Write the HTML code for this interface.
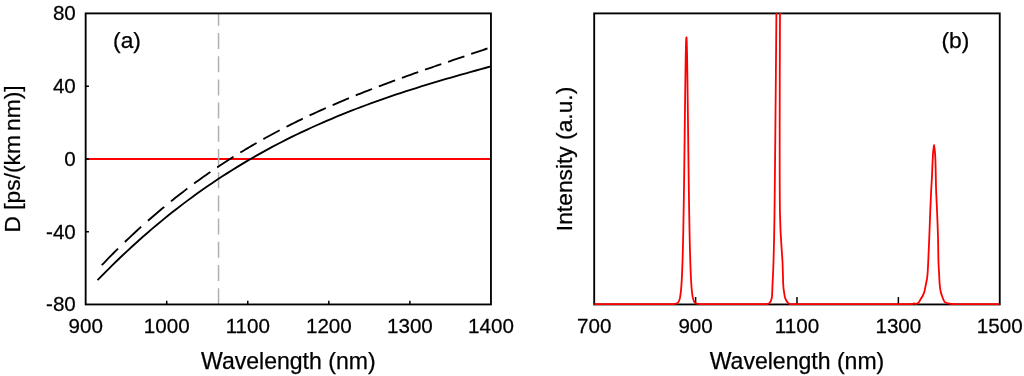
<!DOCTYPE html>
<html><head><meta charset="utf-8"><title>Dispersion and spectrum</title>
<style>
html,body{margin:0;padding:0;background:#fff;}
svg{display:block;}
text{font-family:"Liberation Sans",Arial,sans-serif;fill:#000;stroke:#000;stroke-width:0.25px;}
.t{font-size:20.6px;}
.l{font-size:22.8px;}
.x{font-size:23.05px;}
</style></head><body>
<svg width="1024" height="376" viewBox="0 0 1024 376">
<rect width="1024" height="376" fill="#fff"/>
<defs>
<clipPath id="ca"><rect x="85.65" y="13.4" width="405.29999999999995" height="292.05"/></clipPath>
<clipPath id="cb"><rect x="594.2" y="12.9" width="405.54999999999995" height="293.05"/></clipPath>
</defs>

<g fill="none">
<line x1="85.65" y1="159" x2="490.95" y2="159" stroke="#ff0000" stroke-width="2.1"/>
<line x1="218.55" y1="304.2" x2="218.55" y2="13.4" stroke="#b0b0b0" stroke-width="1.5" stroke-dasharray="16 7.2" clip-path="url(#ca)"/>
<path d="M97.50,280.19 L102.48,275.08 L107.46,270.05 L112.44,265.12 L117.42,260.27 L122.40,255.50 L127.38,250.82 L132.36,246.22 L137.34,241.71 L142.32,237.28 L147.30,232.93 L152.28,228.65 L157.26,224.46 L162.24,220.34 L167.22,216.30 L172.20,212.33 L177.18,208.44 L182.16,204.62 L187.13,200.88 L192.11,197.20 L197.09,193.60 L202.07,190.06 L207.05,186.59 L212.03,183.19 L217.01,179.85 L221.99,176.58 L226.97,173.37 L231.95,170.22 L236.93,167.14 L241.91,164.11 L246.89,161.15 L251.87,158.24 L256.85,155.39 L261.83,152.59 L266.81,149.86 L271.79,147.17 L276.77,144.54 L281.75,141.96 L286.73,139.43 L291.71,136.95 L296.69,134.52 L301.67,132.13 L306.65,129.80 L311.63,127.51 L316.61,125.26 L321.59,123.06 L326.57,120.89 L331.55,118.78 L336.53,116.70 L341.51,114.65 L346.49,112.65 L351.47,110.69 L356.45,108.76 L361.43,106.86 L366.41,105.00 L371.39,103.17 L376.37,101.38 L381.35,99.61 L386.33,97.88 L391.30,96.17 L396.28,94.49 L401.26,92.84 L406.24,91.21 L411.22,89.61 L416.20,88.03 L421.18,86.47 L426.16,84.93 L431.14,83.41 L436.12,81.92 L441.10,80.44 L446.08,78.97 L451.06,77.53 L456.04,76.09 L461.02,74.67 L466.00,73.27 L470.98,71.87 L475.96,70.49 L480.94,69.12 L485.92,67.75 L490.90,66.39" stroke="#000" stroke-width="1.85" clip-path="url(#ca)"/>
<path d="M101.75,265.20 L104.08,262.77 L106.41,260.36 L108.74,257.97 L111.06,255.60 L113.39,253.25 L115.72,250.92 L118.05,248.61 M124.84,242.00 L127.17,239.77 L129.50,237.56 L131.83,235.37 L134.15,233.20 L136.48,231.05 L138.81,228.91 L141.14,226.80 M147.93,220.74 L150.26,218.70 L152.59,216.68 L154.92,214.68 L157.24,212.69 L159.57,210.72 L161.90,208.77 L164.23,206.84 M171.02,201.31 L173.35,199.44 L175.68,197.59 L178.01,195.76 L180.33,193.95 L182.66,192.15 L184.99,190.37 L187.32,188.61 M194.11,183.55 L196.44,181.85 L198.77,180.17 L201.10,178.50 L203.42,176.84 L205.75,175.20 L208.08,173.58 L210.41,171.97 M217.20,167.36 L219.53,165.80 L221.86,164.27 L224.19,162.74 L226.51,161.23 L228.84,159.74 L231.17,158.26 L233.50,156.79 M240.29,152.58 L242.62,151.17 L244.95,149.76 L247.28,148.37 L249.60,146.99 L251.93,145.63 L254.26,144.28 L256.59,142.94 M263.38,139.10 L265.71,137.80 L268.04,136.52 L270.37,135.25 L272.69,133.99 L275.02,132.74 L277.35,131.51 L279.68,130.28 M286.47,126.77 L288.80,125.58 L291.13,124.41 L293.46,123.25 L295.78,122.09 L298.11,120.95 L300.44,119.81 L302.77,118.69 M309.56,115.46 L311.89,114.38 L314.22,113.30 L316.55,112.23 L318.87,111.17 L321.20,110.11 L323.53,109.07 L325.86,108.03 M332.65,105.06 L334.98,104.05 L337.31,103.05 L339.64,102.06 L341.96,101.08 L344.29,100.10 L346.62,99.14 L348.95,98.17 M355.74,95.41 L358.07,94.47 L360.40,93.54 L362.73,92.62 L365.05,91.70 L367.38,90.79 L369.71,89.89 L372.04,88.99 M378.83,86.39 L381.16,85.51 L383.49,84.64 L385.82,83.77 L388.14,82.90 L390.47,82.04 L392.80,81.19 L395.13,80.33 M401.92,77.87 L404.25,77.04 L406.58,76.20 L408.91,75.37 L411.23,74.55 L413.56,73.72 L415.89,72.90 L418.22,72.09 M425.01,69.72 L427.34,68.91 L429.67,68.11 L432.00,67.30 L434.32,66.50 L436.65,65.70 L438.98,64.91 L441.31,64.11 M448.10,61.80 L450.43,61.01 L452.76,60.22 L455.09,59.43 L457.41,58.64 L459.74,57.85 L462.07,57.07 L464.40,56.28 M471.19,53.98 L473.52,53.19 L475.85,52.41 L478.18,51.62 L480.50,50.83 L482.83,50.04 L485.16,49.25 L487.49,48.45" stroke="#000" stroke-width="1.85"/>
<rect x="85.65" y="13.4" width="405.30" height="291.05" stroke="#000" stroke-width="1.85"/>
<path d="M166.71,304.45 v-3.8 M247.77,304.45 v-3.8 M328.83,304.45 v-3.8 M409.89,304.45 v-3.8 M85.65,86.16 h3.3 M85.65,158.93 h3.3 M85.65,231.69 h3.3" stroke="#000" stroke-width="1.5"/>
</g>
<text class="t" transform="translate(85.65,332.8) scale(1,1.02)" text-anchor="middle">900</text>
<text class="t" transform="translate(166.71,332.8) scale(1,1.02)" text-anchor="middle">1000</text>
<text class="t" transform="translate(247.77,332.8) scale(1,1.02)" text-anchor="middle">1100</text>
<text class="t" transform="translate(328.83,332.8) scale(1,1.02)" text-anchor="middle">1200</text>
<text class="t" transform="translate(409.89,332.8) scale(1,1.02)" text-anchor="middle">1300</text>
<text class="t" transform="translate(490.95,332.8) scale(1,1.02)" text-anchor="middle">1400</text>
<text class="t" transform="translate(75.8,20.40) scale(1,1.02)" text-anchor="end">80</text>
<text class="t" transform="translate(75.8,93.16) scale(1,1.02)" text-anchor="end">40</text>
<text class="t" transform="translate(75.8,165.93) scale(1,1.02)" text-anchor="end">0</text>
<text class="t" transform="translate(75.8,238.69) scale(1,1.02)" text-anchor="end">-40</text>
<text class="t" transform="translate(75.8,311.45) scale(1,1.02)" text-anchor="end">-80</text>
<text class="l" transform="translate(113.1,47.75)">(a)</text>
<text class="x" transform="translate(288.30,369.2)" text-anchor="middle">Wavelength (nm)</text>
<text class="l" transform="translate(20,158.93) rotate(-90)" text-anchor="middle">D [ps/(km<tspan dx="-2.2"> </tspan>nm)]</text>
<g fill="none">
<rect x="594.2" y="13.4" width="405.55" height="291.05" stroke="#000" stroke-width="1.85"/>
<path d="M695.59,304.45 v-7.5 M796.98,304.45 v-7.5 M898.36,304.45 v-7.5" stroke="#000" stroke-width="1.5"/>
<path d="M594.2,304.2 L672,304.2 L672.00,304.09 L672.25,304.08 L672.50,304.07 L672.75,304.06 L673.00,304.05 L673.25,304.03 L673.50,304.01 L673.75,303.99 L674.00,303.97 L674.25,303.95 L674.50,303.92 L674.75,303.88 L675.00,303.85 L675.25,303.80 L675.50,303.75 L675.75,303.70 L676.00,303.63 L676.25,303.55 L676.50,303.46 L676.75,303.35 L677.00,303.23 L677.25,303.08 L677.50,302.90 L677.75,302.69 L678.00,302.44 L678.25,302.14 L678.50,301.78 L678.75,301.35 L679.00,300.83 L679.25,300.20 L679.50,299.45 L679.75,298.54 L680.00,297.43 L680.25,296.10 L680.50,294.49 L680.75,292.53 L681.00,290.17 L681.25,287.32 L681.50,283.89 L681.75,279.75 L682.00,274.79 L682.25,268.86 L682.50,261.79 L682.75,253.43 L683.00,243.61 L683.25,232.16 L683.50,218.97 L683.75,203.96 L684.00,187.15 L684.25,168.69 L684.50,148.89 L684.75,128.27 L685.00,107.54 L685.25,87.64 L685.50,69.65 L685.75,54.70 L686.00,43.84 L686.25,37.89 L686.50,37.34 L686.75,42.23 L687.00,52.17 L687.25,66.38 L687.50,83.86 L687.75,103.46 L688.00,124.10 L688.25,144.81 L688.50,164.82 L688.75,183.58 L689.00,200.74 L689.25,216.11 L689.50,229.67 L689.75,241.45 L690.00,251.59 L690.25,260.23 L690.50,267.54 L690.75,273.69 L691.00,278.83 L691.25,283.12 L691.50,286.69 L691.75,289.65 L692.00,292.10 L692.25,294.12 L692.50,295.80 L692.75,297.19 L693.00,298.33 L693.25,299.28 L693.50,300.06 L693.75,300.71 L694.00,301.25 L694.25,301.70 L694.50,302.08 L694.75,302.39 L695.00,302.65 L695.25,302.86 L695.50,303.05 L695.75,303.20 L696.00,303.33 L696.25,303.44 L696.50,303.54 L696.75,303.62 L697.00,303.68 L697.25,303.74 L697.50,303.79 L697.75,303.84 L698.00,303.88 L698.25,303.91 L698.50,303.94 L698.75,303.97 L699.00,303.99 L699.25,304.01 L699.50,304.03 L699.75,304.04 L700.00,304.06 L700.25,304.07 L700.50,304.08 L700.75,304.09 L701.00,304.10 L765,304.2 L765.50,304.20 C765.83,304.17 766.92,304.13 767.50,304.00 C768.08,303.87 768.52,303.77 769.00,303.40 C769.48,303.03 770.02,302.45 770.40,301.80 C770.78,301.15 771.03,300.38 771.30,299.50 C771.57,298.62 771.80,298.92 772.00,296.50 C772.20,294.08 772.25,290.75 772.50,285.00 C772.75,279.25 773.17,273.67 773.50,262.00 C773.83,250.33 774.17,239.33 774.50,215.00 C774.83,190.67 775.18,149.67 775.50,116.00 C775.82,82.33 776.23,32.33 776.40,13.00 C776.57,-6.33 775.90,2.17 776.50,0.00 C777.10,-2.17 779.42,-2.17 780.00,0.00 C780.58,2.17 780.05,-6.33 780.00,13.00 C779.95,32.33 779.70,82.33 779.70,116.00 C779.70,149.67 779.53,190.67 780.00,215.00 C780.47,239.33 781.96,250.33 782.50,262.00 C783.04,273.67 782.97,279.83 783.25,285.00 C783.53,290.17 783.91,290.92 784.20,293.00 C784.49,295.08 784.60,296.17 785.00,297.50 C785.40,298.83 786.10,300.12 786.60,301.00 C787.10,301.88 787.52,302.33 788.00,302.80 C788.48,303.27 788.92,303.57 789.50,303.80 C790.08,304.03 791.17,304.13 791.50,304.20 L907,304.2 L908.00,304.20 C908.33,304.20 909.33,304.20 910.00,304.20 C910.67,304.17 911.35,304.12 912.00,304.00 C912.65,303.88 913.32,303.52 913.90,303.50 C914.48,303.48 914.98,303.88 915.50,303.90 C916.02,303.92 916.53,303.78 917.00,303.60 C917.47,303.42 917.88,303.18 918.30,302.80 C918.72,302.42 919.02,302.07 919.50,301.30 C919.98,300.53 920.68,299.08 921.20,298.20 C921.72,297.32 922.05,297.16 922.60,296.00 C923.15,294.84 923.98,293.08 924.50,291.25 C925.02,289.42 925.33,287.07 925.75,285.00 C926.17,282.93 926.67,280.97 927.00,278.80 C927.33,276.63 927.48,275.13 927.70,272.00 C927.92,268.87 928.03,265.83 928.30,260.00 C928.57,254.17 928.97,245.33 929.30,237.00 C929.63,228.67 929.98,217.83 930.30,210.00 C930.62,202.17 930.92,195.70 931.20,190.00 C931.48,184.30 931.78,180.27 932.00,175.80 C932.22,171.33 932.33,166.83 932.50,163.20 C932.67,159.57 932.83,156.45 933.00,154.00 C933.17,151.55 933.38,149.97 933.55,148.50 C933.72,147.03 933.97,145.75 934.05,145.20 L934.05,145.20 C934.13,145.75 934.38,147.03 934.55,148.50 C934.72,149.97 934.94,151.55 935.10,154.00 C935.26,156.45 935.38,159.57 935.50,163.20 C935.62,166.83 935.70,171.33 935.80,175.80 C935.90,180.27 935.90,184.30 936.10,190.00 C936.30,195.70 936.68,202.17 937.00,210.00 C937.32,217.83 937.77,228.67 938.00,237.00 C938.23,245.33 938.23,254.17 938.40,260.00 C938.57,265.83 938.77,267.83 939.00,272.00 C939.23,276.17 939.45,281.67 939.75,285.00 C940.05,288.33 940.32,289.92 940.80,292.00 C941.27,294.08 941.98,295.88 942.60,297.50 C943.22,299.12 943.77,300.78 944.50,301.70 C945.23,302.62 946.17,302.68 947.00,303.00 C947.83,303.32 948.67,303.43 949.50,303.60 C950.33,303.77 951.25,303.90 952.00,304.00 C952.75,304.10 953.67,304.17 954.00,304.20 L999.75,304.2" stroke="#ff0000" stroke-width="1.8" stroke-linejoin="round" clip-path="url(#cb)"/>
</g>
<text class="t" transform="translate(594.20,332.8) scale(1,1.02)" text-anchor="middle">700</text>
<text class="t" transform="translate(695.59,332.8) scale(1,1.02)" text-anchor="middle">900</text>
<text class="t" transform="translate(796.98,332.8) scale(1,1.02)" text-anchor="middle">1100</text>
<text class="t" transform="translate(898.36,332.8) scale(1,1.02)" text-anchor="middle">1300</text>
<text class="t" transform="translate(999.75,332.8) scale(1,1.02)" text-anchor="middle">1500</text>
<text class="l" transform="translate(941.5,47.75)">(b)</text>
<text class="x" transform="translate(796.98,369.2)" text-anchor="middle">Wavelength (nm)</text>
<text class="l" transform="translate(572.2,158.93) rotate(-90)" text-anchor="middle">Intensity (a.u.)</text>
</svg></body></html>
